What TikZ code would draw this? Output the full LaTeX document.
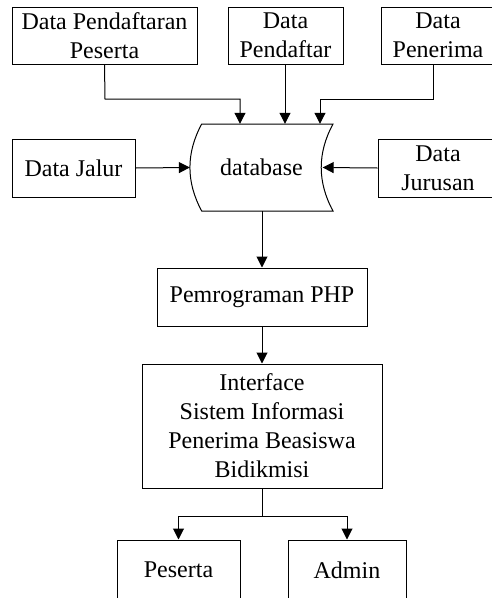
\documentclass[tikz,border=0pt]{standalone}
\usepackage{fontspec}
\setmainfont{Liberation Serif}
\usetikzlibrary{arrows.meta}
\begin{document}
\begin{tikzpicture}[x=1pt,y=-1pt,
  every node/.style={font=\fontsize{24}{29}\selectfont, align=center, inner sep=0pt},
  box/.style={draw, line width=1pt},
  conn/.style={line width=1pt, -{Triangle[length=11pt,width=11pt]}},
  plain/.style={line width=1pt}]
\useasboundingbox (0,0) rectangle (492,598);
\clip (0,0) rectangle (492,598);
% top boxes
\node[box, minimum width=185pt, minimum height=57pt] (dpp) at (104.5,35.5) {Data Pendaftaran\\Peserta};
\node[box, minimum width=115pt, minimum height=57pt] (dp) at (285.5,35.5) {Data\\Pendaftar};
\node[box, minimum width=114pt, minimum height=57pt] (dpn) at (438,35.5) {Data\\Penerima};
% side boxes
\node[box, minimum width=123pt, minimum height=58pt] (dj) at (73.5,168) {Data Jalur};
\node[box, minimum width=120pt, minimum height=58pt] (djr) at (438,168) {Data\\Jurusan};
% database
\node[minimum width=143pt, minimum height=87pt] (db) at (261.5,167.5) {database};
\draw[line width=1pt] (201.7,124) -- (333,124)
  .. controls (317.3,153) and (317.3,182) .. (333,211) -- (201.7,211)
  .. controls (186,182) and (186,153) .. (201.7,124) -- cycle;
\coordinate (dbR) at (322.7,167.5);
% php
\node[box, minimum width=210pt, minimum height=58pt] (php) at (262,297) {Pemrograman PHP};
\node[box, minimum width=240pt, minimum height=124pt] (ui) at (262,426) {Interface\\Sistem Informasi\\Penerima Beasiswa\\Bidikmisi};
\node[box, minimum width=123pt, minimum height=60pt] (ps) at (178.5,570) {Peserta};
\node[box, minimum width=118pt, minimum height=60pt] (ad) at (347,570) {Admin};
% connectors
\draw[conn] (dpp.south) -- (105,99) -| (db.north -| 240,0);
\draw[conn] (dp.south -| 285,0) -- (db.north -| 285,0);
\draw[conn] (dpn.south -| 433,0) -- (433,99) -| (db.north -| 320,0);
\draw[conn] (dj.east) -- (db.west);
\draw[conn] (djr.west) -- (dbR);
\draw[conn] (db.south -| 262,0) -- (php.north);
\draw[conn] (php.south) -- (ui.north);
\coordinate (split) at (262,516);
\draw[plain] (ui.south) -- (split);
\draw[conn] (split) -| (ps.north);
\draw[conn] (split) -| (ad.north);
\end{tikzpicture}
\end{document}
